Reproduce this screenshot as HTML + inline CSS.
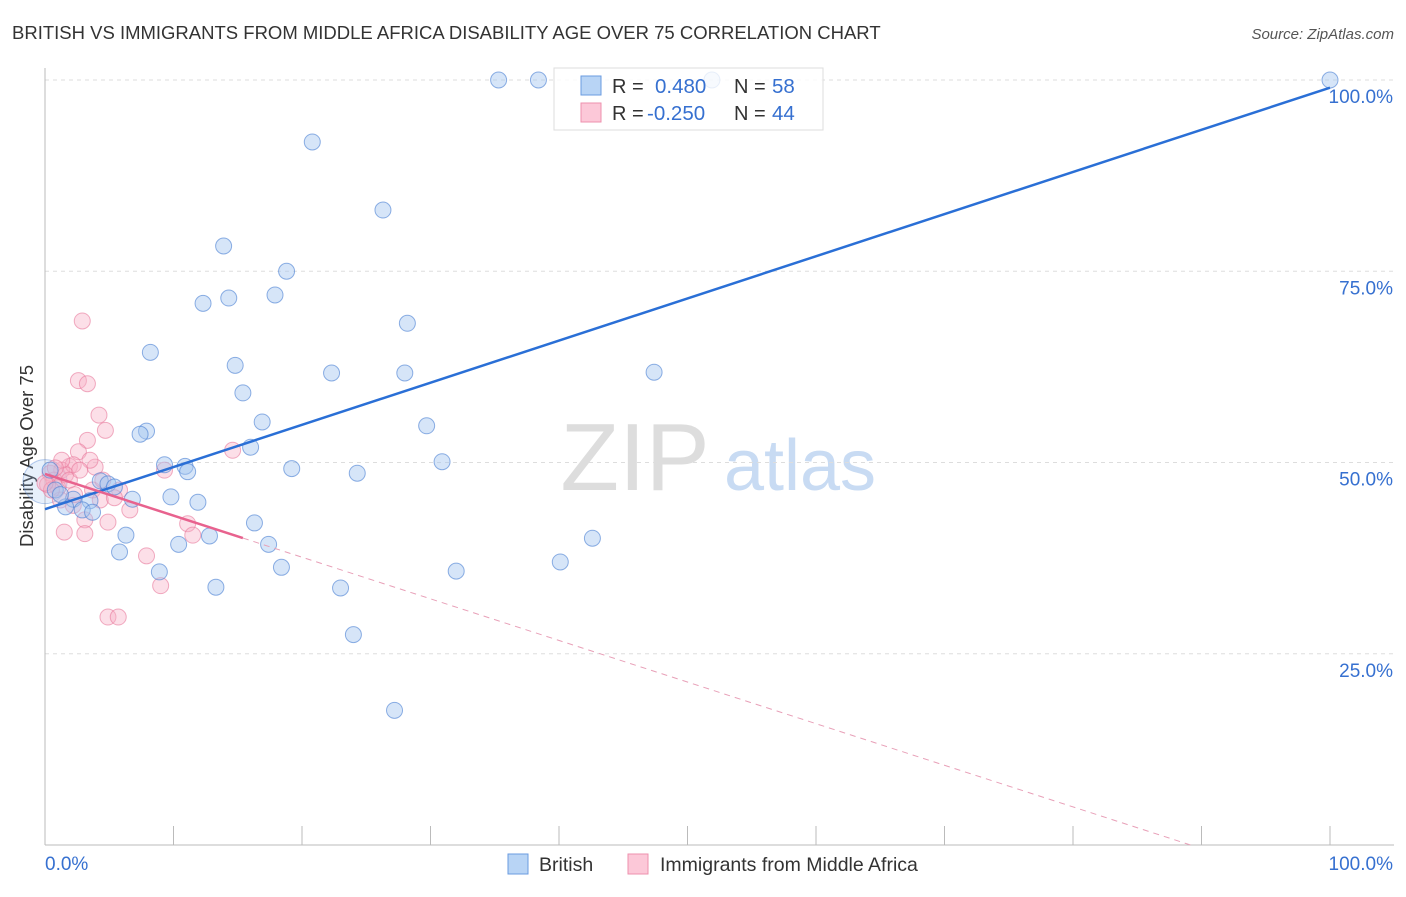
<!DOCTYPE html>
<html><head><meta charset="utf-8"><style>
body{margin:0;background:#fff;font-family:"Liberation Sans",sans-serif}
svg text{font-family:"Liberation Sans",sans-serif}
</style></head><body>
<svg id="c" width="1406" height="892">
<text x="12" y="39" font-size="18.5" fill="#333">BRITISH VS IMMIGRANTS FROM MIDDLE AFRICA DISABILITY AGE OVER 75 CORRELATION CHART</text>
<text x="1394" y="39" font-size="15" fill="#555" font-style="italic" text-anchor="end">Source: ZipAtlas.com</text>
<text transform="translate(33,456) rotate(-90)" font-size="18.5" fill="#333" text-anchor="middle">Disability Age Over 75</text>
<g>
<text x="635" y="490" font-size="96" fill="#ddd" font-family="Liberation Serif" text-anchor="middle">ZIP</text>
<text x="800" y="490" font-size="72" fill="#c8dbf3" text-anchor="middle">atlas</text>
</g>
<g id="grid"></g><g id="pts"></g><g id="lines"></g>
<g>
<rect x="554" y="68" width="269" height="62" fill="rgba(255,255,255,0.8)" stroke="#ddd"/>
<rect x="581" y="76" width="20" height="19" fill="#b8d4f5" stroke="#6a9be0"/>
<rect x="581" y="103" width="20" height="19" fill="#fcc8d8" stroke="#ee90ae"/>
<text x="612" y="93" font-size="20" fill="#333">R = </text><text x="655" y="93" font-size="20.5" fill="#3670d0">0.480</text>
<text x="734" y="93" font-size="20" fill="#333">N = </text><text x="772" y="93" font-size="20.5" fill="#3670d0">58</text>
<text x="612" y="120" font-size="20" fill="#333">R = </text><text x="647" y="120" font-size="20.5" fill="#3670d0">-0.250</text>
<text x="734" y="120" font-size="20" fill="#333">N = </text><text x="772" y="120" font-size="20.5" fill="#3670d0">44</text>
</g>
<g>
<rect x="508" y="854" width="20" height="20" fill="#b8d4f5" stroke="#6a9be0"/>
<text x="539" y="871" font-size="19.5" fill="#333">British</text>
<rect x="628" y="854" width="20" height="20" fill="#fcc8d8" stroke="#ee90ae"/>
<text x="660" y="871" font-size="19.5" fill="#333">Immigrants from Middle Africa</text>
</g>
<text x="45" y="870" font-size="19" fill="#3670d0">0.0%</text>
<text x="1393" y="870" font-size="19" fill="#3670d0" text-anchor="end">100.0%</text>
</svg>
<script>
const yTicks=[25,50,75,100];
const yTickLabels=["25.0%","50.0%","75.0%","100.0%"];
const britX=[35.3,38.4,51.9,100,20.8,26.3,13.9,18.8,12.3,14.3,17.9,28.2,8.2,14.8,22.3,28.0,47.4,15.4,16.9,29.7,7.9,7.4,16.0,30.9,9.3,10.9,11.1,19.2,24.3,4.3,4.9,5.4,6.8,9.8,11.9,3.5,2.2,1.6,2.9,3.7,16.3,6.3,12.8,10.4,17.4,5.8,42.6,40.1,8.9,18.4,32.0,13.3,23.0,24.0,27.2,0.4,0.8,1.2];
const britY=[100,100,100,100,91.9,83.0,78.3,75.0,70.8,71.5,71.9,68.2,64.4,62.7,61.7,61.7,61.8,59.1,55.3,54.8,54.1,53.7,52.0,50.1,49.7,49.5,48.8,49.2,48.6,47.6,47.2,46.8,45.2,45.5,44.8,45.0,45.2,44.2,43.8,43.5,42.1,40.5,40.4,39.3,39.3,38.3,40.1,37.0,35.7,36.3,35.8,33.7,33.6,27.5,17.6,49.0,46.4,45.8];
const immX=[2.9,2.6,3.3,4.2,4.7,3.3,2.6,1.9,3.9,1.3,2.2,0.4,0.7,1.0,0.2,9.3,14.6,1.2,3.7,4.3,2.2,6.6,3.1,4.9,11.1,11.5,1.5,3.1,7.9,9.0,4.9,5.7,0.5,1.6,0,2.3,4.5,5.8,3.5,1.3,1.9,2.7,0.8,5.4];
const immY=[68.5,60.7,60.3,56.2,54.2,52.9,51.4,49.5,49.4,49.0,49.7,48.6,47.7,46.7,47.1,49.0,51.6,45.1,46.4,45.1,44.4,43.8,42.5,42.2,42.0,40.5,40.9,40.7,37.8,33.9,29.8,29.8,46.4,48.4,47.3,45.8,47.7,46.4,50.3,50.3,47.7,49.0,49.3,45.4];
const britTrend=[43.9,99.0];
const immTrend=[48.5,-0.544];
const X0=45,X1=1330,Y0=845,Y100=80;
const sx=v=>X0+(X1-X0)*v/100, sy=v=>Y0-(Y0-Y100)*v/100;
const NS="http://www.w3.org/2000/svg";
function mk(p,t,a){const e=document.createElementNS(NS,t);for(const k in a)e.setAttribute(k,a[k]);p.appendChild(e);return e;}
const g=document.getElementById('grid');
yTicks.forEach((t,i)=>{
 const l=mk(g,'line',{x1:X0,x2:1394,y1:sy(t),y2:sy(t),stroke:'#ddd','stroke-dasharray':'4,4'});
 
 
 const tx=mk(g,'text',{x:1393,y:sy(t)+23,'font-size':19,fill:'#3670d0','text-anchor':'end'});
 tx.textContent=yTickLabels[i];
 
 
});
const ax=mk(g,'line',{x1:X0,x2:1394,y1:Y0,y2:Y0,stroke:'#bbb'});


const ay=mk(g,'line',{x1:X0,x2:X0,y1:68,y2:Y0,stroke:'#bbb'});


for(let i=0;i<=10;i++){const t=mk(g,'line',{x1:sx(i*10),x2:sx(i*10),y1:826,y2:Y0,stroke:'#bbb'});
 
 }
const p=document.getElementById('pts');
const big=mk(p,'circle',{cx:sx(0),cy:sy(47.5),r:22,fill:'rgba(160,195,240,0.25)',stroke:'rgba(80,130,210,0.4)'});


immX.forEach((x,i)=>{const c=mk(p,'circle',{cx:sx(x),cy:sy(immY[i]),r:8,fill:'rgba(248,175,198,0.4)',stroke:'rgba(232,120,155,0.6)'});
 
 });
britX.forEach((x,i)=>{const c=mk(p,'circle',{cx:sx(x),cy:sy(britY[i]),r:8,fill:'rgba(165,198,240,0.45)',stroke:'rgba(70,125,210,0.6)'});
 
 });
const L=document.getElementById('lines');
const bl=mk(L,'line',{x1:sx(0),y1:sy(britTrend[0]),x2:sx(100),y2:sy(britTrend[1]),stroke:'#2a6fd6','stroke-width':2.5});


const f=x=>immTrend[0]+immTrend[1]*x;
const pl=mk(L,'line',{x1:sx(0),y1:sy(f(0)),x2:sx(15.4),y2:sy(f(15.4)),stroke:'#e8628e','stroke-width':2.5});


const xe=-immTrend[0]/immTrend[1];
const pd=mk(L,'line',{x1:sx(15.4),y1:sy(f(15.4)),x2:sx(xe),y2:sy(0),stroke:'#e8a0b8','stroke-width':1,'stroke-dasharray':'6,5'});


</script>
</body></html>
